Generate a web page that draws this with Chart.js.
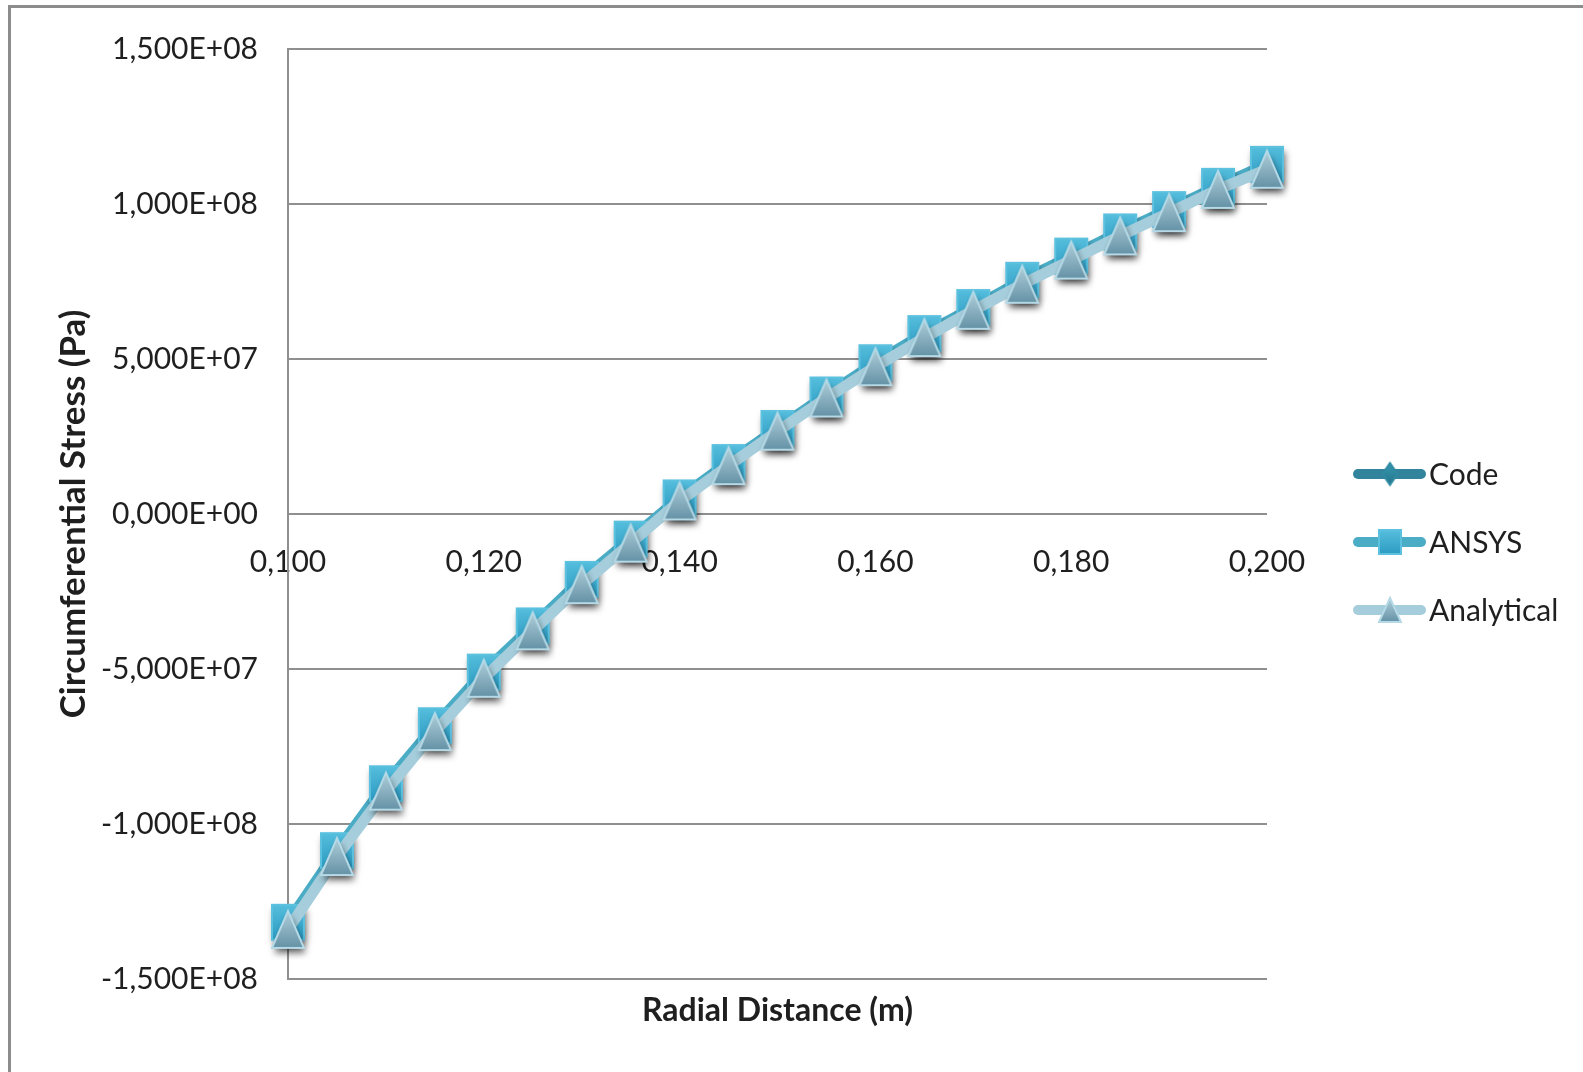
<!DOCTYPE html>
<html>
<head>
<meta charset="utf-8">
<title>Circumferential Stress</title>
<script src="https://cdn.jsdelivr.net/npm/chart.js@4.4.1/dist/chart.umd.min.js"></script>
<style>
  html, body { margin: 0; padding: 0; background: #fff; overflow: hidden; }
  #frame {
    position: absolute; left: 8px; top: 5px; width: 1700px; height: 1200px;
    border-top: 3px solid #8c8c8c; border-left: 3px solid #8c8c8c;
  }
  #stress { position: absolute; left: 0; top: 0; }
</style>
</head>
<body>
<div id="frame"></div>
<canvas id="stress" width="1583" height="1072"></canvas>
<script>
// radial positions (m) and hoop stress (Pa)
const radius = [0.100, 0.105, 0.110, 0.115, 0.120, 0.125, 0.130, 0.135, 0.140, 0.145, 0.150,
                0.155, 0.160, 0.165, 0.170, 0.175, 0.180, 0.185, 0.190, 0.195, 0.200];
const codeStress = [-1.330e8, -1.096e8, -0.882e8, -0.693e8, -0.520e8, -0.369e8, -0.220e8, -0.088e8,
                    0.047e8, 0.161e8, 0.272e8, 0.379e8, 0.482e8, 0.576e8, 0.662e8, 0.748e8,
                    0.826e8, 0.904e8, 0.977e8, 1.052e8, 1.120e8];
const ansysStress = [-1.317e8, -1.086e8, -0.870e8, -0.683e8, -0.510e8, -0.361e8, -0.211e8, -0.081e8,
                     0.052e8, 0.166e8, 0.276e8, 0.384e8, 0.488e8, 0.582e8, 0.666e8, 0.754e8,
                     0.832e8, 0.910e8, 0.982e8, 1.057e8, 1.128e8];
const analyticalStress = [-1.340e8, -1.105e8, -0.894e8, -0.702e8, -0.530e8, -0.377e8, -0.228e8, -0.094e8,
                          0.042e8, 0.156e8, 0.267e8, 0.374e8, 0.475e8, 0.569e8, 0.657e8, 0.741e8,
                          0.819e8, 0.897e8, 0.972e8, 1.047e8, 1.112e8];

const xTickValues = [0.10, 0.12, 0.14, 0.16, 0.18, 0.20];
const xTickLabels = ["0,100", "0,120", "0,140", "0,160", "0,180", "0,200"];
const yTickValues = [-1.5e8, -1.0e8, -0.5e8, 0, 0.5e8, 1.0e8, 1.5e8];
const yTickLabels = ["-1,500E+08", "-1,000E+08", "-5,000E+07", "0,000E+00", "5,000E+07", "1,000E+08", "1,500E+08"];

const FONT = "Lato";
const TEXT = "#1f1f1f";
const GRID = "#8f8f8f";

/* marker sprites (gradient fill, light rim, optional drop shadow) */
function makeMarker(shape, w, h, fill, shadow){
  const pad = shadow ? 16 : 3;
  const c = document.createElement("canvas");
  c.width = w + pad*2;
  c.height = h + pad*2;
  const g = c.getContext("2d");
  const cx = c.width/2, cy = c.height/2;
  g.beginPath();
  if (shape === "square") {
    g.rect(cx - w/2, cy - h/2, w, h);
  } else if (shape === "triangle") {
    g.moveTo(cx, cy - h/2);
    g.lineTo(cx + w/2, cy + h/2);
    g.lineTo(cx - w/2, cy + h/2);
    g.closePath();
  } else {
    g.moveTo(cx, cy - h/2);
    g.lineTo(cx + w/2, cy);
    g.lineTo(cx, cy + h/2);
    g.lineTo(cx - w/2, cy);
    g.closePath();
  }
  if (shadow) {
    g.shadowColor = "rgba(0,0,0,0.6)";
    g.shadowBlur = 7;
    g.shadowOffsetX = 2;
    g.shadowOffsetY = 5;
  }
  const grad = g.createLinearGradient(0, cy - h/2, 0, cy + h/2);
  grad.addColorStop(0, fill[0]);
  grad.addColorStop(1, fill[1]);
  g.fillStyle = grad;
  g.fill();
  g.shadowColor = "transparent";
  g.lineWidth = 2;
  g.strokeStyle = fill[2];
  g.stroke();
  return c;
}

const DIAMOND_FILL = ["#3797B0", "#23758B", "#2F8AA2"];
const SQUARE_FILL = ["#56BEDD", "#2C9BC2", "#5BC1DF"];
const TRIANGLE_FILL = ["#B0CFDA", "#6592A6", "#B5D9E6"];

const diamondImg = makeMarker("diamond", 26, 32, DIAMOND_FILL, true);
const squareImg = makeMarker("square", 32, 35, SQUARE_FILL, true);
const triangleImg = makeMarker("triangle", 32, 37, TRIANGLE_FILL, true);

const series = [
  { label: "Code", values: codeStress, line: "#31849B", img: diamondImg,
    legendImg: makeMarker("diamond", 15, 22, DIAMOND_FILL, false), order: 3 },
  { label: "ANSYS", values: ansysStress, line: "#4BACC6", img: squareImg,
    legendImg: makeMarker("square", 22, 24, SQUARE_FILL, false), order: 2 },
  { label: "Analytical", values: analyticalStress, line: "#A5CDDB", img: triangleImg,
    legendImg: makeMarker("triangle", 22, 24, TRIANGLE_FILL, false), order: 1 }
];

/* legend: line + marker sample, text to the right */
const sideLegend = {
  id: "sideLegend",
  afterDraw(chart){
    const ctx = chart.ctx;
    const rows = [474, 542, 610];
    ctx.save();
    series.forEach((s, i)=>{
      const y = rows[i];
      ctx.beginPath();
      ctx.lineCap = "round";
      ctx.lineWidth = 10;
      ctx.strokeStyle = s.line;
      ctx.moveTo(1358, y);
      ctx.lineTo(1421, y);
      ctx.stroke();
      const im = s.legendImg;
      ctx.drawImage(im, 1390 - im.width/2, y - im.height/2);
      ctx.font = `30px ${FONT}`;
      ctx.fillStyle = TEXT;
      ctx.textBaseline = "middle";
      ctx.textAlign = "left";
      ctx.fillText(s.label, 1429, y + 1);
    });
    ctx.restore();
  }
};

const chart = new Chart(document.getElementById("stress"), {
  type: "line",
  data: {
    datasets: series.map(s=>({
      label: s.label,
      data: radius.map((r, i)=>({ x: r, y: s.values[i] })),
      xAxisID: "x",
      yAxisID: "y",
      borderColor: s.line,
      backgroundColor: s.line,
      borderWidth: 11,
      borderCapStyle: "round",
      borderJoinStyle: "round",
      pointStyle: s.img,
      pointRadius: 16,
      tension: 0,
      clip: false,
      order: s.order
    }))
  },
  options: {
    responsive: false,
    animation: false,
    devicePixelRatio: 1,
    layout: { padding: { left: 0, top: 49, right: 316, bottom: 0 } },
    plugins: { legend: { display: false }, tooltip: { enabled: false } },
    scales: {
      x: {
        type: "linear",
        position: { y: 0 },
        min: 0.1,
        max: 0.2,
        afterBuildTicks: sc => { sc.ticks = xTickValues.map(v=>({ value: v })); },
        ticks: {
          callback: (v, i) => xTickLabels[i],
          padding: 30,
          maxRotation: 0,
          autoSkip: false,
          color: TEXT,
          font: { family: FONT, size: 30 }
        },
        grid: { display: false, drawTicks: false },
        border: { display: false }
      },
      x2: {
        type: "linear",
        axis: "x",
        position: "bottom",
        min: 0.1,
        max: 0.2,
        ticks: { display: false },
        grid: { display: false, drawTicks: false },
        border: { display: false },
        title: {
          display: true,
          text: "Radial Distance (m)",
          color: TEXT,
          font: { family: FONT, size: 32, weight: "bold" },
          padding: { top: 0, bottom: 42 }
        },
        afterFit: sc => { sc.height = 93; }
      },
      y: {
        type: "linear",
        position: "left",
        min: -1.5e8,
        max: 1.5e8,
        afterBuildTicks: sc => { sc.ticks = yTickValues.map(v=>({ value: v })); },
        ticks: {
          callback: (v, i) => yTickLabels[i],
          padding: 30,
          color: TEXT,
          font: { family: FONT, size: 30 }
        },
        grid: { color: GRID, lineWidth: 2, drawTicks: false },
        border: { display: true, color: GRID, width: 2 },
        title: {
          display: true,
          text: "Circumferential Stress (Pa)",
          color: TEXT,
          font: { family: FONT, size: 35, weight: "bold" },
          padding: { top: 53, bottom: 0 }
        },
        afterFit: sc => { sc.width = 288; }
      }
    }
  },
  plugins: [sideLegend]
});
</script>
</body>
</html>
